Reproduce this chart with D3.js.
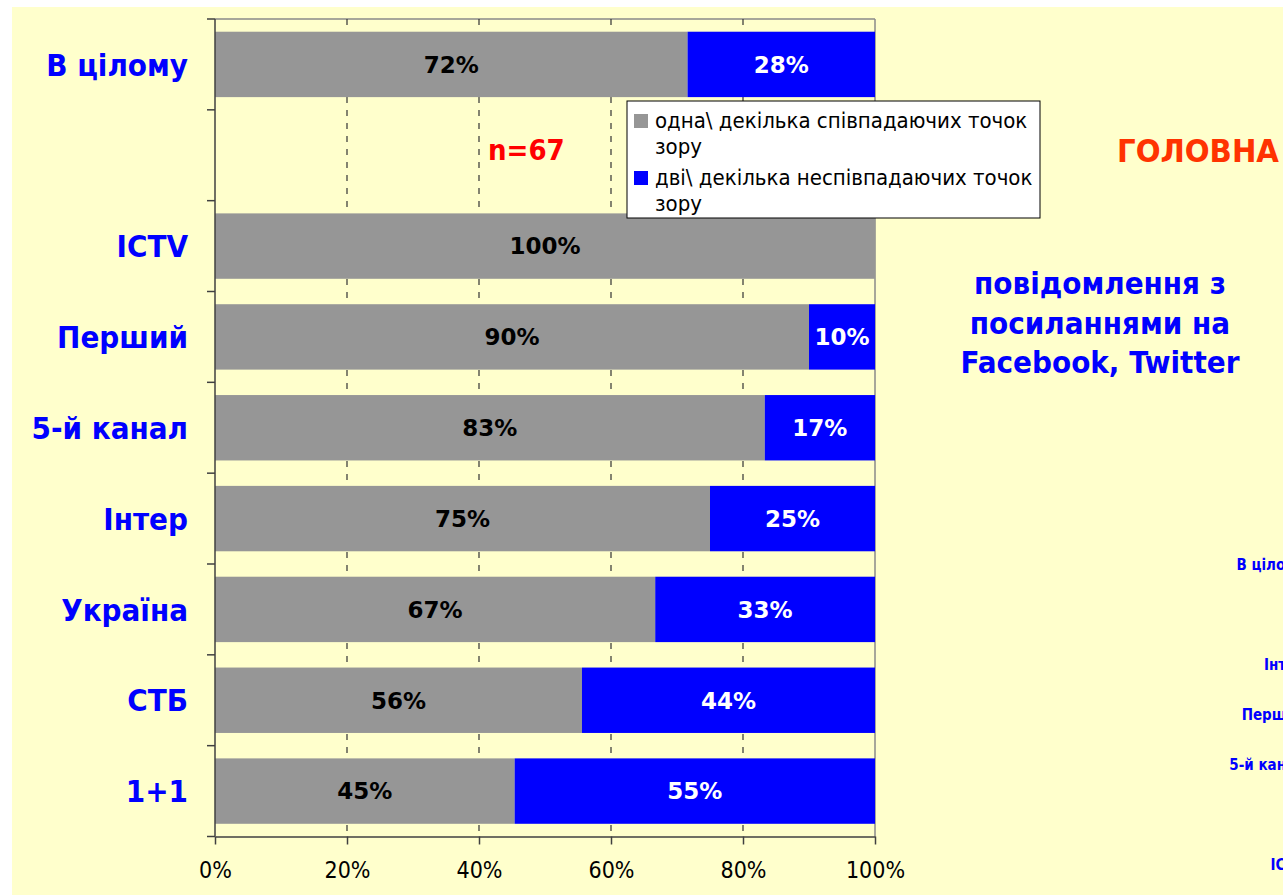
<!DOCTYPE html>
<html><head><meta charset="utf-8">
<script src="https://cdn.jsdelivr.net/npm/d3@7"></script>
<style>
html,body{margin:0;padding:0;background:#fff;}
svg{display:block;}
.cond{font-family:"DejaVu Sans Condensed","DejaVu Sans",sans-serif;font-stretch:condensed;}
.wide{font-family:"DejaVu Sans",sans-serif;}
</style></head>
<body>
<script>
// ---- data ----
const categories = ["В цілому", "", "ICTV", "Перший", "5-й канал", "Інтер", "Україна", "СТБ", "1+1"];
const agreeValues = [71.6, null, 100, 90, 83.3, 75, 66.7, 55.6, 45.4];
const disagreeValues = [28.4, null, 0, 10, 16.7, 25, 33.3, 44.4, 54.6];
const seriesNames = ["одна\\ декілька співпадаючих точок зору", "дві\\ декілька неспівпадаючих точок зору"];
const legendLines = [["одна\\ декілька співпадаючих точок", "зору"], ["дві\\ декілька неспівпадаючих точок", "зору"]];
const xTicks = [0, 20, 40, 60, 80, 100];
const sampleNote = "n=67";
const sideTitle = "ГОЛОВНА";
const sideSubtitle = ["повідомлення з", "посиланнями на", "Facebook, Twitter"];
const sideLabels = ["В цілому", "Інтер", "Перший", "5-й канал", "ICTV"];
const sideLabelRows = [0, 2, 3, 4, 6];

(function () {
const W = 1283, H = 895;
const colors = ["#969696", "#0000FF"];

const svg = d3.select("body").append("svg").attr("width", W).attr("height", H);
svg.append("rect").attr("x", 12).attr("y", 7).attr("width", W - 12).attr("height", H - 7).attr("fill", "#FFFFCC");

const pLeft = 215, pRight = 875, pTop = 19, pBottom = 836.5;
const x = d3.scaleLinear().domain([0, 100]).range([pLeft, pRight]);
const y = d3.scaleBand().domain(d3.range(categories.length)).range([pTop, pBottom]).paddingInner(0.28).paddingOuter(0.14);

// plot border (top/right)
svg.append("line").attr("x1", pLeft).attr("x2", pRight).attr("y1", pTop).attr("y2", pTop).attr("stroke", "#8a8a8a").attr("stroke-width", 1.5);
svg.append("line").attr("x1", pRight).attr("x2", pRight).attr("y1", pTop).attr("y2", pBottom).attr("stroke", "#8a8a8a").attr("stroke-width", 1.5);

// gridlines
svg.append("g").selectAll("line").data(xTicks.filter(t => t > 0 && t < 100)).join("line")
  .attr("x1", d => x(d)).attr("x2", d => x(d)).attr("y1", pTop).attr("y2", pBottom)
  .attr("stroke", "#333").attr("stroke-width", 1.2).attr("stroke-dasharray", "6,7");

// stacked bars
const rows = categories.map((c, i) => ({i, c, a: agreeValues[i], b: disagreeValues[i]})).filter(r => r.a !== null);
const g = svg.append("g");
rows.forEach(r => {
  g.append("rect").attr("x", x(0)).attr("y", y(r.i)).attr("width", x(r.a) - x(0)).attr("height", y.bandwidth()).attr("fill", colors[0]);
  if (r.b > 0) g.append("rect").attr("x", x(r.a)).attr("y", y(r.i)).attr("width", x(r.a + r.b) - x(r.a)).attr("height", y.bandwidth()).attr("fill", colors[1]);
  g.append("text").attr("class", "wide").attr("x", (x(0) + x(r.a)) / 2).attr("y", y(r.i) + y.bandwidth() / 2).attr("dy", "0.36em")
    .attr("text-anchor", "middle").attr("font-size", 23).attr("font-weight", "bold").attr("fill", "#000").text(Math.round(r.a) + "%");
  if (r.b > 0) g.append("text").attr("class", "wide").attr("x", (x(r.a) + x(r.a + r.b)) / 2).attr("y", y(r.i) + y.bandwidth() / 2).attr("dy", "0.36em")
    .attr("text-anchor", "middle").attr("font-size", 23).attr("font-weight", "bold").attr("fill", "#fff").text(Math.round(r.b) + "%");
});

// y axis line & category ticks
const step = y.step();
svg.append("line").attr("x1", pLeft).attr("x2", pLeft).attr("y1", pTop).attr("y2", pBottom).attr("stroke", "#404040").attr("stroke-width", 1.5);
svg.append("g").selectAll("line").data(d3.range(categories.length + 1)).join("line")
  .attr("x1", pLeft - 8).attr("x2", pLeft).attr("y1", d => pTop + d * step).attr("y2", d => pTop + d * step)
  .attr("stroke", "#404040").attr("stroke-width", 1.5);
svg.append("g").selectAll("text").data(categories.map((c, i) => ({c, i}))).join("text")
  .attr("class", "cond").attr("x", 188).attr("y", d => y(d.i) + y.bandwidth() / 2).attr("dy", "0.36em")
  .attr("text-anchor", "end").attr("font-size", 31).attr("font-weight", "bold").attr("fill", "#0000FF").text(d => d.c);

// x axis
const xAxis = svg.append("g").attr("transform", `translate(0,${pBottom})`)
  .call(d3.axisBottom(x).tickValues(xTicks).tickSize(8).tickSizeOuter(0).tickFormat(d => d + "%"));
xAxis.select(".domain").attr("stroke", "#404040").attr("stroke-width", 1.5);
xAxis.selectAll(".tick line").attr("stroke", "#404040").attr("stroke-width", 1.5);
xAxis.selectAll(".tick text").attr("class", "cond").attr("font-size", 23).attr("fill", "#000").attr("y", 25).attr("dy", "0.71em");

// n note
svg.append("text").attr("class", "cond").attr("x", 488).attr("y", 160).attr("font-size", 29).attr("font-weight", "bold").attr("fill", "#FF0000").text(sampleNote);

// legend
const lg = svg.append("g");
lg.append("rect").attr("x", 627).attr("y", 101).attr("width", 413).attr("height", 117).attr("fill", "#fff").attr("stroke", "#000").attr("stroke-width", 1);
legendLines.forEach((lines, k) => {
  const by = 128 + k * 57;
  lg.append("rect").attr("x", 634).attr("y", by - 14).attr("width", 14).attr("height", 14).attr("fill", colors[k]);
  lines.forEach((t, j) => {
    lg.append("text").attr("class", "cond").attr("x", 655).attr("y", by + j * 26).attr("font-size", 22).attr("fill", "#000").text(t);
  });
});

// side texts
svg.append("text").attr("class", "cond").attr("x", 1117).attr("y", 162).attr("font-size", 32.5).attr("font-weight", "bold").attr("fill", "#FF3300").text(sideTitle);
svg.append("g").selectAll("text").data(sideSubtitle).join("text")
  .attr("class", "cond").attr("x", 1100).attr("y", (d, i) => 294 + i * 39.5).attr("text-anchor", "middle")
  .attr("font-size", 31).attr("font-weight", "bold").attr("fill", "#0000FF").text(d => d);
svg.append("g").selectAll("text").data(sideLabels).join("text")
  .attr("class", "cond").attr("x", 1305).attr("y", (d, i) => 570 + sideLabelRows[i] * 50).attr("text-anchor", "end")
  .attr("font-size", 15).attr("font-weight", "bold").attr("fill", "#0000FF").text(d => d);
})();
</script>
</body></html>
